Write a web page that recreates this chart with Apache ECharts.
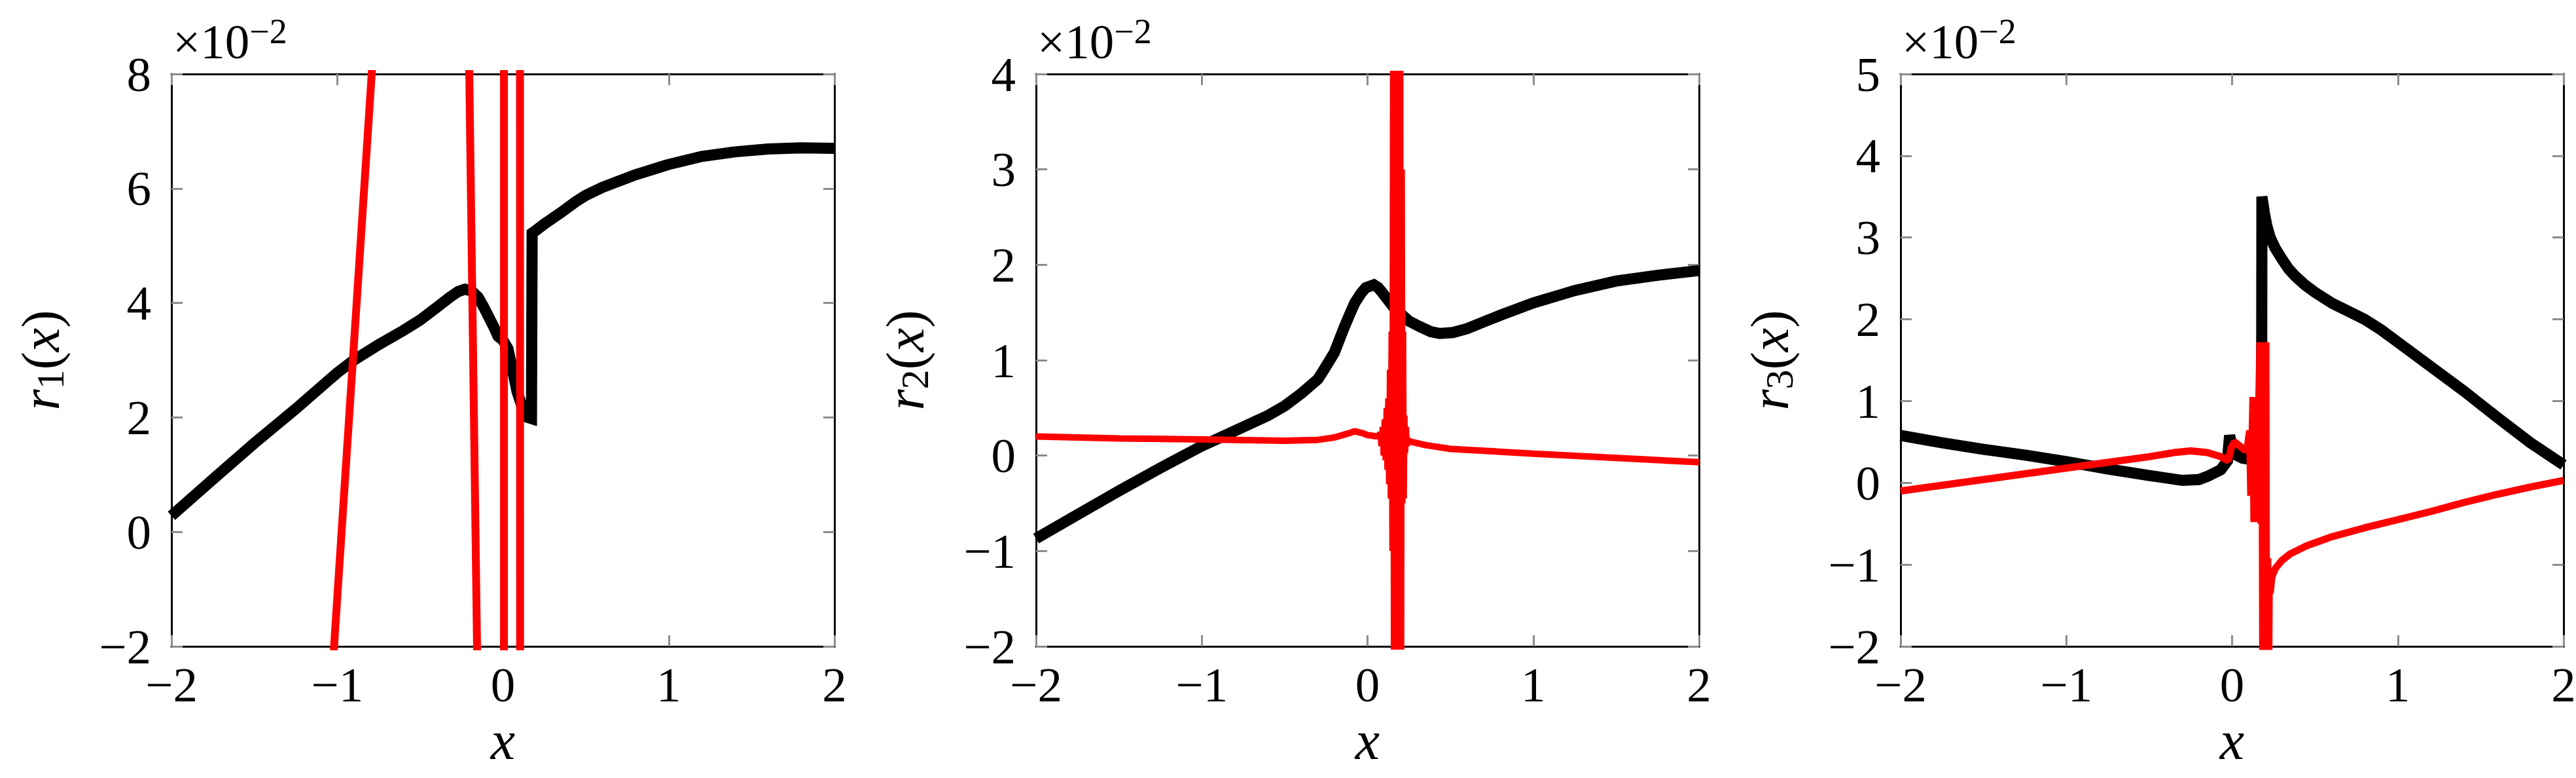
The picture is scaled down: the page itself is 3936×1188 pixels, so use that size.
<!DOCTYPE html>
<html>
<head>
<meta charset="utf-8">
<script src="https://cdn.jsdelivr.net/npm/echarts@6/dist/echarts.min.js"></script>
<style>
html,body{margin:0;padding:0;background:#fff}
#c{width:3936px;height:1188px}
#c text{font-family:"Liberation Serif",serif !important}
</style>
</head>
<body>
<div id="c"></div>
<script>
// values in units of 10^-2
const xTicks = [-2, -1, 0, 1, 2];
const yRanges = [[-2, 8, 2], [-2, 4, 1], [-2, 5, 1]];
const yTitles = ['1', '2', '3'];

const r1Black = [[-2,0.28],[-1.75,0.92],[-1.5,1.55],[-1.25,2.15],[-1,2.78],[-0.9,3.0],[-0.75,3.27],[-0.6,3.52],[-0.5,3.7],[-0.4,3.92],[-0.32,4.1],[-0.27,4.2],[-0.23,4.24],[-0.19,4.21],[-0.15,4.1],[-0.12,3.95],[-0.085,3.75],[-0.05,3.55],[-0.03,3.42],[0,3.35],[0.03,3.2],[0.06,2.8],[0.085,2.45],[0.12,2.15],[0.15,2.0],[0.172,1.98],[0.176,5.22],[0.2,5.27],[0.25,5.38],[0.3,5.48],[0.35,5.58],[0.44,5.77],[0.5,5.88],[0.6,6.02],[0.8,6.24],[1.0,6.42],[1.2,6.56],[1.4,6.64],[1.6,6.69],[1.8,6.71],[2.0,6.7]];
const r1Red = [[-2,-45],[-1.1,-5.57],[-0.7,12.05],[-0.5,30],[-0.2125,10],[-0.1465,-4.1],[-0.05,-30],[0.006,-10],[0.006,20],[0.05,40],[0.102,20],[0.104,-10],[0.5,-50],[2,-60]];

const r2Black = [[-2,-0.87],[-1.75,-0.62],[-1.5,-0.37],[-1.25,-0.13],[-1,0.1],[-0.9,0.18],[-0.75,0.3],[-0.6,0.42],[-0.5,0.52],[-0.4,0.65],[-0.3,0.8],[-0.27,0.88],[-0.2,1.08],[-0.144,1.33],[-0.11,1.47],[-0.077,1.6],[-0.04,1.7],[-0.01,1.76],[0.038,1.79],[0.065,1.76],[0.093,1.7],[0.16,1.55],[0.25,1.41],[0.318,1.35],[0.38,1.3],[0.436,1.28],[0.515,1.29],[0.6,1.33],[0.7,1.4],[0.8,1.47],[1.0,1.6],[1.25,1.73],[1.5,1.83],[1.75,1.89],[2.0,1.94]];
const r2Red = [[-2,0.2],[-1.5,0.18],[-1,0.17],[-0.5,0.155],[-0.3,0.165],[-0.2,0.19],[-0.12,0.23],[-0.077,0.255],[-0.03,0.235],[0,0.215],[0.04,0.205],[0.07,0.2],[0.078,0.24],[0.085,0.1],[0.092,0.3],[0.098,0.0],[0.104,0.38],[0.11,-0.05],[0.116,0.5],[0.121,-0.15],[0.126,0.6],[0.131,-0.3],[0.136,0.9],[0.141,-0.45],[0.146,1.3],[0.151,-1.0],[0.156,5.5],[0.161,-4],[0.166,7],[0.171,-6],[0.176,7],[0.181,-6],[0.186,7],[0.191,-6],[0.196,6],[0.201,-4],[0.206,3],[0.21,-0.5],[0.214,1.3],[0.218,-0.45],[0.222,0.42],[0.226,0.03],[0.231,0.3],[0.236,0.1],[0.242,0.17],[0.25,0.15],[0.35,0.11],[0.5,0.07],[0.75,0.045],[1.0,0.02],[1.5,-0.025],[2.0,-0.07]];

const r3Black = [[-2,0.58],[-1.75,0.49],[-1.5,0.41],[-1.25,0.34],[-1,0.26],[-0.75,0.17],[-0.5,0.09],[-0.3,0.03],[-0.2,0.04],[-0.147,0.08],[-0.068,0.16],[-0.028,0.27],[-0.015,0.58],[0.0,0.45],[0.024,0.34],[0.064,0.3],[0.1,0.29],[0.14,0.28],[0.178,0.3],[0.18,3.5],[0.195,3.3],[0.21,3.14],[0.23,3.0],[0.26,2.87],[0.3,2.74],[0.34,2.62],[0.38,2.53],[0.44,2.42],[0.5,2.33],[0.6,2.2],[0.7,2.1],[0.8,2.0],[0.9,1.87],[1.0,1.72],[1.2,1.42],[1.4,1.12],[1.6,0.8],[1.8,0.49],[2.0,0.22]];
const r3Red = [[-2,-0.1],[-1.5,0.04],[-1,0.18],[-0.75,0.25],[-0.5,0.32],[-0.35,0.37],[-0.25,0.39],[-0.15,0.37],[-0.068,0.32],[-0.023,0.27],[-0.005,0.43],[0.015,0.5],[0.04,0.46],[0.07,0.41],[0.09,0.4],[0.1,0.55],[0.106,0.64],[0.113,-0.16],[0.12,0.45],[0.126,1.05],[0.132,-0.48],[0.138,1.05],[0.144,-0.48],[0.15,1.05],[0.156,-0.48],[0.162,1.05],[0.168,1.72],[0.174,-0.5],[0.18,1.72],[0.186,-3],[0.192,1.72],[0.198,-4],[0.204,1.72],[0.21,-5],[0.215,-0.92],[0.219,-3],[0.224,-1.25],[0.23,-1.35],[0.24,-1.15],[0.26,-1.05],[0.3,-0.95],[0.35,-0.87],[0.45,-0.77],[0.6,-0.66],[0.8,-0.55],[1.0,-0.45],[1.2,-0.35],[1.4,-0.24],[1.6,-0.14],[1.8,-0.05],[2.0,0.03]];

const blacks = [r1Black, r2Black, r3Black];
const reds = [r1Red, r2Red, r3Red];
const redWidths = [12, 10, 11];

const FAM = 'Liberation Serif';
const lefts = [262, 1583, 2904];
const TOP = 113, W = 1013, H = 874;

function fmt(v) { return v < 0 ? '\u2212' + Math.abs(v) : String(v); }

const grids = [], xAxes = [], yAxes = [], series = [], graphics = [];
const tickStyle = {show: true, inside: true, length: 17, lineStyle: {color: '#8c8c8c', width: 3}};
const lineStyle = {show: true, onZero: false, lineStyle: {color: '#000', width: 3}};
function labelStyle(margin) {
  return {margin: margin, fontFamily: FAM, fontSize: 75, lineHeight: 56, color: '#000', formatter: fmt};
}

for (let i = 0; i < 3; i++) {
  grids.push({left: lefts[i], top: TOP, width: W, height: H, outerBoundsMode: 'none', containLabel: false});
}
for (let i = 0; i < 3; i++) {
  xAxes.push({type: 'value', gridIndex: i, min: xTicks[0], max: xTicks[xTicks.length-1], interval: 1, position: 'bottom',
    axisLine: lineStyle, axisTick: tickStyle, splitLine: {show: false}, axisLabel: labelStyle(30)});
}
for (let i = 0; i < 3; i++) {
  xAxes.push({type: 'value', gridIndex: i, min: xTicks[0], max: xTicks[xTicks.length-1], interval: 1, position: 'top',
    axisLine: lineStyle, axisTick: tickStyle, splitLine: {show: false}, axisLabel: {show: false}});
}
for (let i = 0; i < 3; i++) {
  const r = yRanges[i];
  yAxes.push({type: 'value', gridIndex: i, min: r[0], max: r[1], interval: r[2], position: 'left',
    axisLine: lineStyle, axisTick: tickStyle, splitLine: {show: false}, axisLabel: labelStyle(31)});
}
for (let i = 0; i < 3; i++) {
  const r = yRanges[i];
  yAxes.push({type: 'value', gridIndex: i, min: r[0], max: r[1], interval: r[2], position: 'right',
    axisLine: lineStyle, axisTick: tickStyle, splitLine: {show: false}, axisLabel: {show: false}});
}
for (let i = 0; i < 3; i++) {
  series.push({type: 'line', xAxisIndex: i, yAxisIndex: i, data: blacks[i], showSymbol: false, symbol: 'none',
    clip: true, silent: true, animation: false,
    lineStyle: {color: '#000', width: 17, join: 'miter', miterLimit: 4}});
  series.push({type: 'line', xAxisIndex: i, yAxisIndex: i, data: reds[i], showSymbol: false, symbol: 'none',
    clip: true, silent: true, animation: false,
    lineStyle: {color: '#ff0000', width: redWidths[i], join: 'bevel'}});
}

function tok(size, italic, lh, va) {
  return {fontFamily: FAM, fontStyle: italic ? 'italic' : 'normal', fontSize: size, lineHeight: lh, verticalAlign: va, fill: '#000'};
}

for (let i = 0; i < 3; i++) {
  // y-axis title r_i(x), reading bottom to top
  graphics.push({type: 'text', x: lefts[i] - 200, y: TOP + H / 2, rotation: Math.PI / 2, silent: true,
    style: {text: '{it|r}{sub|' + yTitles[i] + '}{n|(}{it|x}{n|)}', align: 'center', verticalAlign: 'middle', fill: '#000',
      fontFamily: FAM, fontSize: 82,
      rich: {it: tok(82, true, 90, 'middle'), n: tok(82, false, 90, 'middle'), sub: tok(60, false, 32, 'bottom')}}});
  // x-axis title
  graphics.push({type: 'text', x: lefts[i] + W / 2, y: 1130, silent: true,
    style: {text: 'x', fontFamily: FAM, fontStyle: 'italic', fontSize: 84, lineHeight: 46,
      align: 'center', verticalAlign: 'middle', fill: '#000'}});
  // scale factor x10^-2
  graphics.push({type: 'text', x: lefts[i] + 2, y: 21, silent: true,
    style: {text: '{a|\u00d710}{b|\u22122}', align: 'left', verticalAlign: 'top', fill: '#000',
      fontFamily: FAM, fontSize: 75,
      rich: {a: tok(75, false, 80, 'bottom'), b: tok(54, false, 41, 'top')}}});
}

const chart = echarts.init(document.getElementById('c'), null, {renderer: 'svg', width: 3936, height: 1188});
chart.setOption({
  animation: false,
  backgroundColor: '#fff',
  textStyle: {fontFamily: FAM},
  grid: grids, xAxis: xAxes, yAxis: yAxes, series: series, graphic: graphics
});
</script>
</body>
</html>
